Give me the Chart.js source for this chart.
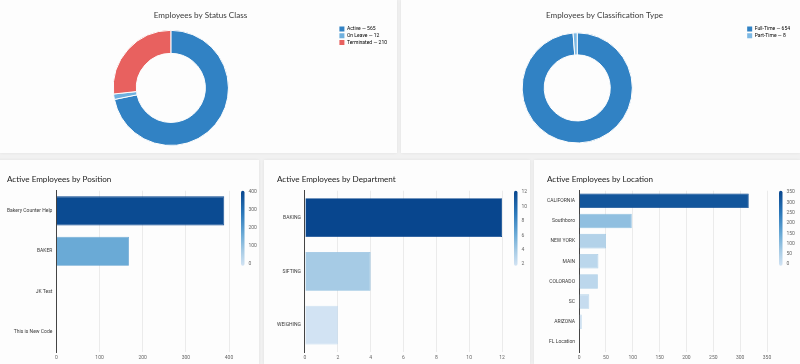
<!DOCTYPE html>
<html>
<head>
<meta charset="utf-8">
<script src="https://cdn.jsdelivr.net/npm/chart.js@4.4.0/dist/chart.umd.min.js"></script>
<style>
  html, body { margin: 0; padding: 0; }
  body { width: 800px; height: 364px; background: #f1f1f1; position: relative; overflow: hidden; }
  .card { position: absolute; background: #fdfdfd; box-shadow: 0 0 3px rgba(0,0,0,0.07); }
  .card canvas { display: block; }
</style>
</head>
<body>
<div class="card" style="left:0;top:0;width:397px;height:153px"><canvas id="statusChart"></canvas></div>
<div class="card" style="left:401px;top:0;width:399px;height:153px"><canvas id="classChart"></canvas></div>
<div class="card" style="left:-6px;top:160px;width:265px;height:204px"><canvas id="positionChart"></canvas></div>
<div class="card" style="left:264px;top:160px;width:266px;height:204px"><canvas id="departmentChart"></canvas></div>
<div class="card" style="left:534px;top:160px;width:266px;height:204px"><canvas id="locationChart"></canvas></div>

<script>
// data
const statusLabels = ["Active", "On Leave", "Terminated"];
const statusCounts = [565, 12, 210];
const statusColors = ["#3182c4", "#6fb0de", "#e8615f"];

const classLabels = ["Full-Time", "Part-Time"];
const classCounts = [654, 8];
const classColors = ["#3182c4", "#7db9e4"];

const positionLabels = ["Bakery Counter Help", "BAKER", "JK Test", "This is New Code"];
const positionCounts = [389, 168, 1, 1];
const positionTicks = [0, 100, 200, 300, 400];

const departmentLabels = ["BAKING", "SIFTING", "WEIGHING"];
const departmentCounts = [12, 4, 2];
const departmentAxisTicks = [0, 2, 4, 6, 8, 10, 12];
const departmentColorTicks = [2, 4, 6, 8, 10, 12];

const locationLabels = ["CALIFORNIA", "Southboro", "NEW YORK", "MAIN", "COLORADO", "SC", "ARIZONA", "FL Location"];
const locationCounts = [316, 98, 50, 36, 35, 19, 5, 1];
const locationTicks = [0, 50, 100, 150, 200, 250, 300, 350];

// light -> dark blue scale used by bars and colour bars
const blueStops = [
  [0, [210, 227, 243]],
  [0.2, [166, 203, 229]],
  [0.42, [106, 170, 214]],
  [0.7, [43, 120, 186]],
  [1, [8, 70, 142]]
];

function blueAt(t) {
  t = Math.max(0, Math.min(1, t));
  for (let i = 1; i < blueStops.length; i++) {
    const [t1, c1] = blueStops[i];
    const [t0, c0] = blueStops[i - 1];
    if (t <= t1) {
      const k = (t - t0) / (t1 - t0);
      const c = c0.map((v, j) => Math.round(v + (c1[j] - v) * k));
      return `rgb(${c[0]},${c[1]},${c[2]})`;
    }
  }
  return "rgb(8,70,142)";
}

const tickFont = { family: "Roboto", size: 5 };

// vertical gradient legend to the right of the bar charts
const colorbarPlugin = {
  id: "colorbar",
  afterDraw(chart, args, opts) {
    if (!opts.ticks) return;
    const ctx = chart.ctx;
    const area = chart.chartArea;
    const x = area.right + 12;
    const top = area.top;
    const h = 75;
    const w = 3.5;
    const lo = opts.ticks[0];
    const hi = opts.ticks[opts.ticks.length - 1];

    const grad = ctx.createLinearGradient(0, top + h, 0, top);
    blueStops.forEach(([t]) => grad.addColorStop(t, blueAt(t)));
    ctx.save();
    ctx.fillStyle = grad;
    ctx.beginPath();
    ctx.roundRect(x, top, w, h, w / 2);
    ctx.fill();

    ctx.fillStyle = "#666";
    ctx.font = "5px Roboto";
    ctx.textBaseline = "middle";
    ctx.textAlign = "left";
    opts.ticks.forEach(v => {
      const y = top + 1.5 + (hi - v) / (hi - lo) * (h - 3);
      ctx.fillText(String(v), x + 7.5, y);
    });
    ctx.restore();
  }
};

function donutChart(id, title, labels, counts, colors, radius, pad) {
  return new Chart(document.getElementById(id), {
    type: "doughnut",
    data: {
      labels: labels,
      datasets: [{
        data: counts,
        backgroundColor: colors,
        borderColor: "#fdfdfd",
        borderWidth: 1
      }]
    },
    options: {
      responsive: true,
      maintainAspectRatio: false,
      animation: false,
      cutout: "60%",
      radius: radius,
      layout: { padding: pad },
      plugins: {
        tooltip: { enabled: false },
        title: {
          display: true,
          text: title,
          color: "#3a3a3a",
          font: { family: "Lato", size: 8.1, weight: "normal" },
          padding: { top: 10.1, bottom: 5 }
        },
        legend: {
          position: "right",
          align: "start",
          fullSize: false,
          labels: {
            boxWidth: 5,
            boxHeight: 5,
            padding: 1.7,
            color: "#555",
            font: tickFont,
            generateLabels: () => labels.map((l, i) => ({
              text: `${l} — ${counts[i]}`,
              fillStyle: colors[i],
              strokeStyle: colors[i],
              lineWidth: 0,
              hidden: false,
              index: i
            }))
          }
        }
      }
    }
  });
}

function barChart(id, title, labels, counts, axisTicks, colorTicks, padRight) {
  const lo = colorTicks[0];
  const hi = colorTicks[colorTicks.length - 1];
  const shade = counts.map(v => (v - lo) / (hi - lo));
  return new Chart(document.getElementById(id), {
    type: "bar",
    data: {
      labels: labels,
      datasets: [{
        data: counts,
        backgroundColor: shade.map(t => blueAt(t)),
        borderColor: shade.map(t => blueAt(t + 0.08)),
        borderWidth: 0.8,
        barPercentage: 0.72,
        categoryPercentage: 1
      }]
    },
    options: {
      indexAxis: "y",
      responsive: true,
      maintainAspectRatio: false,
      animation: false,
      layout: { padding: { left: 13, right: padRight, bottom: 0 } },
      plugins: {
        legend: { display: false },
        tooltip: { enabled: false },
        title: {
          display: true,
          text: title,
          align: "start",
          color: "#222",
          font: { family: "Lato", size: 8.1, weight: "normal" },
          padding: { top: 14.4, bottom: 6.6 }
        },
        colorbar: { ticks: colorTicks }
      },
      scales: {
        x: {
          min: axisTicks[0],
          max: axisTicks[axisTicks.length - 1],
          ticks: { stepSize: axisTicks[1] - axisTicks[0], font: tickFont, color: "#666", padding: 3 },
          grid: { color: "#ebebeb", drawTicks: false },
          border: { display: false }
        },
        y: {
          ticks: { font: tickFont, color: "#3a3a3a", padding: 4 },
          grid: { display: false, drawTicks: false },
          border: { color: "#444", width: 1 },
          afterFit: scale => { scale.width -= 4; }
        }
      }
    },
    plugins: [colorbarPlugin]
  });
}

donutChart("statusChart", "Employees by Status Class", statusLabels, statusCounts, statusColors, "92%", { left: 4, right: 0, bottom: 2 });
donutChart("classChart", "Employees by Classification Type", classLabels, classCounts, classColors, "88%", { left: 8, right: 0, bottom: 2 });

barChart("positionChart", "Active Employees by Position", positionLabels, positionCounts, positionTicks, positionTicks, 30);
barChart("departmentChart", "Active Employees by Department", departmentLabels, departmentCounts, departmentAxisTicks, departmentColorTicks, 28);
barChart("locationChart", "Active Employees by Location", locationLabels, locationCounts, locationTicks, locationTicks, 33);
</script>
</body>
</html>
